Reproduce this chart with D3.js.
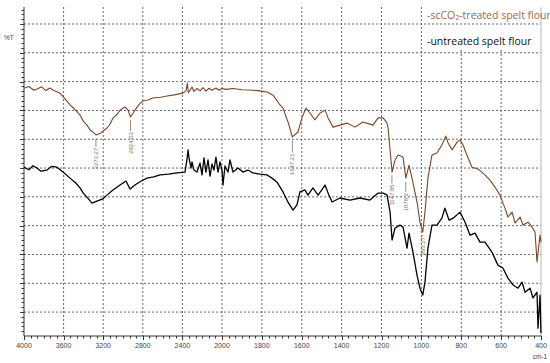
<!DOCTYPE html>
<html lang="en">
<head>
<meta charset="UTF-8">
<title>FTIR spelt flour</title>
<script src="https://d3js.org/d3.v7.min.js"></script>
<style>
    body { margin: 0; background: #fff; }
    svg { display: block; font-family: "Liberation Sans", Arial, sans-serif; }
    .grid line { stroke: #666; stroke-width: 1; stroke-dasharray: 2,2; }
    .tick-label { font-size: 7px; fill: #444; text-anchor: middle; }
    .peak text { font-size: 6px; fill: #8a6a52; }
    .peak line { stroke: #8a6a52; stroke-width: 0.8; }
</style>
</head>
<body>
<div id="chart"></div>
<script>
// wavenumber (cm-1) ticks
var xMajor = [4000, 3600, 3200, 2800, 2400, 2000, 1800, 1600, 1400, 1200, 1000, 800, 600, 400];
var yMajor = [0, 10, 20, 30, 40, 50, 60, 70, 80, 90, 100];

// scCO2-treated spelt flour  [wavenumber, %T]
var treated = [
    [4000, 77.7], [3950, 78.3], [3900, 77.0], [3869, 77.4], [3820, 78.2], [3780, 76.9], [3740, 77.8], [3707, 77.1],
    [3636, 76.0], [3590, 74.2], [3535, 71.9], [3490, 70.5], [3434, 68.4], [3400, 66.2], [3364, 64.9], [3330, 63.1],
    [3303, 62.5], [3273, 61.5], [3222, 62.2], [3162, 63.9], [3130, 65.3], [3101, 67.4], [3060, 68.6], [3030, 70.1],
    [2980, 71.2], [2950, 70.1], [2924, 67.7], [2900, 69.0], [2879, 70.1], [2840, 72.0], [2798, 73.3], [2750, 73.6],
    [2697, 74.3], [2620, 74.6], [2556, 75.0], [2480, 75.4], [2394, 76.0], [2364, 76.8], [2350, 79.5], [2340, 76.2],
    [2323, 77.0], [2303, 78.1], [2283, 76.6], [2253, 77.6], [2222, 76.8], [2192, 77.9], [2162, 76.7], [2131, 77.7],
    [2101, 77.0], [2061, 77.8], [2030, 77.0], [2000, 77.6], [1980, 77.3], [1945, 77.6], [1900, 77.2], [1860, 77.1],
    [1810, 76.8], [1774, 76.4], [1744, 75.3], [1709, 71.9], [1694, 70.8], [1669, 66.0], [1647, 60.8], [1619, 62.5],
    [1599, 67.4], [1579, 70.8], [1559, 69.1], [1534, 66.7], [1508, 69.1], [1483, 70.1], [1468, 67.4], [1443, 64.2],
    [1408, 64.9], [1373, 65.6], [1333, 64.2], [1293, 66.0], [1243, 64.9], [1217, 67.4], [1192, 67.4], [1172, 65.6],
    [1167, 63.9], [1147, 48.6], [1132, 52.8], [1117, 54.5], [1092, 53.8], [1078, 46.5], [1062, 51.0], [1047, 46.5],
    [1022, 38.2], [1007, 31.2], [993, 27.8], [982, 34.7], [967, 46.5], [947, 54.5], [922, 55.2], [897, 58.0],
    [877, 61.1], [866, 58.7], [846, 56.3], [821, 59.0], [806, 59.7], [791, 58.0], [766, 53.5], [746, 50.3],
    [716, 49.7], [681, 47.6], [656, 45.8], [631, 43.4], [606, 40.6], [581, 36.1], [566, 33.0], [545, 34.7],
    [530, 30.9], [505, 33.0], [490, 30.2], [465, 31.2], [445, 29.5], [430, 27.8], [420, 17.4], [405, 26.7], [400, 24.3]
];

// untreated spelt flour  [wavenumber, %T]
var untreated = [
    [4000, 50.3], [3950, 49.4], [3910, 50.8], [3869, 50.0], [3830, 48.9], [3768, 49.3], [3720, 50.6], [3667, 50.3],
    [3606, 48.6], [3535, 46.5], [3480, 44.9], [3434, 43.1], [3400, 41.2], [3364, 39.9], [3313, 37.8], [3263, 38.5],
    [3210, 39.2], [3162, 40.6], [3101, 42.4], [3030, 44.1], [2970, 45.5], [2929, 42.7], [2879, 44.1], [2820, 45.4],
    [2758, 46.5], [2690, 46.9], [2626, 47.6], [2540, 47.9], [2455, 48.3], [2374, 48.6], [2354, 52.8], [2343, 56.3],
    [2333, 53.5], [2313, 50.0], [2303, 52.1], [2283, 49.3], [2253, 48.6], [2222, 51.7], [2202, 47.6], [2182, 53.5],
    [2162, 48.6], [2141, 52.8], [2121, 47.2], [2101, 51.4], [2081, 49.3], [2061, 53.8], [2040, 48.6], [2020, 52.1],
    [2000, 49.3], [1995, 44.1], [1985, 50.7], [1970, 48.6], [1960, 52.8], [1945, 48.6], [1920, 50.0], [1895, 48.6],
    [1870, 49.3], [1845, 48.3], [1809, 47.9], [1774, 47.6], [1749, 46.5], [1724, 45.1], [1694, 41.7], [1669, 38.2],
    [1644, 35.4], [1624, 37.2], [1609, 41.7], [1584, 42.4], [1569, 40.6], [1544, 43.1], [1518, 40.6], [1483, 44.1],
    [1468, 41.3], [1448, 38.2], [1408, 39.6], [1358, 38.9], [1308, 39.6], [1258, 38.9], [1217, 41.3], [1192, 41.3],
    [1172, 40.6], [1157, 34.7], [1147, 25.0], [1132, 29.2], [1107, 30.2], [1092, 29.5], [1072, 22.2], [1062, 27.4],
    [1042, 20.8], [1022, 12.8], [1007, 8.3], [993, 5.9], [982, 10.4], [967, 22.2], [947, 30.2], [922, 30.2],
    [897, 32.6], [882, 36.1], [861, 31.9], [841, 32.6], [806, 34.7], [781, 31.2], [756, 26.7], [731, 27.4],
    [706, 24.3], [681, 24.3], [646, 20.8], [616, 16.3], [591, 15.3], [566, 11.8], [540, 9.4], [515, 8.3],
    [495, 10.4], [480, 6.9], [455, 8.3], [440, 4.9], [420, 6.9], [415, -5.6], [405, 5.9], [400, -7.3]
];

// peak annotations on the treated curve: [wavenumber, label, %T of leader top, %T of text start]
var peaks = [
    [3273.27, "3273.27", 60.2, 57.4],
    [2924.03, "2924.03", 66.6, 62.8],
    [1647.21, "1647.21", 59.6, 55.4],
    [1147.85, "1147.85", 47.5, 44.7],
    [1078.2, "1078.2", 45.2, 41.7],
    [993.27, "993.27", 26.8, 26.4]
];

var W = 550, H = 363;
var svg = d3.select("#chart").append("svg").attr("width", W).attr("height", H);

// x axis is piecewise: 4000-2000 compressed, 2000-400 expanded
var x = d3.scaleLinear().domain([4000, 2000, 400]).range([24, 222, 541]);
var y = d3.scaleLinear().domain([-8.3, 105.9]).range([336, 7]);

// minor ticks: 6 per major interval
var xMinor = [];
for (var i = 0; i < xMajor.length - 1; i++) {
    for (var k = 1; k < 6; k++) xMinor.push(xMajor[i] + (xMajor[i + 1] - xMajor[i]) * k / 6);
}
var yMinor = [];
for (var v = 100 + 10 / 6; v < 105.9; v += 10 / 6) yMinor.push(v);
for (var j = 0; j < yMajor.length - 1; j++) {
    for (var k2 = 1; k2 < 6; k2++) yMinor.push(yMajor[j] + 10 * k2 / 6);
}
for (var v2 = -10 / 6; v2 > -8.3; v2 -= 10 / 6) yMinor.push(v2);

// vertical grid (the two right-most stop under the legend)
var grid = svg.append("g").attr("class", "grid");
grid.selectAll(".vg")
    .data(xMajor.filter(function (d) { return d != 4000 && d != 400; }))
    .enter().append("line")
    .attr("x1", function (d) { return x(d); })
    .attr("x2", function (d) { return x(d); })
    .attr("y1", function (d) { return d < 900 ? 50 : y.range()[1]; })
    .attr("y2", y.range()[0]);
// horizontal grid
grid.selectAll(".hg")
    .data(yMajor)
    .enter().append("line")
    .attr("x1", x(4000)).attr("x2", x(400))
    .attr("y1", function (d) { return y(d); })
    .attr("y2", function (d) { return y(d); });

// right border
svg.append("line")
    .attr("x1", x(400)).attr("x2", x(400))
    .attr("y1", y.range()[1]).attr("y2", y.range()[0])
    .style("stroke", "#bbb").style("stroke-width", 1);

// axes lines
svg.append("line").attr("x1", x(4000)).attr("x2", x(4000))
    .attr("y1", y.range()[1]).attr("y2", y.range()[0])
    .style("stroke", "#333").style("stroke-width", 1);
svg.append("line").attr("x1", x(4000)).attr("x2", x(400) + 0.5)
    .attr("y1", y.range()[0]).attr("y2", y.range()[0])
    .style("stroke", "#333").style("stroke-width", 1);

// y ticks
svg.selectAll(".ytick")
    .data(yMajor.map(function (d) { return [d, 4]; }).concat(yMinor.map(function (d) { return [d, 2.5]; })))
    .enter().append("line")
    .attr("x1", function (d) { return x(4000) - d[1]; }).attr("x2", x(4000))
    .attr("y1", function (d) { return Math.round(y(d[0])) + 0.5; })
    .attr("y2", function (d) { return Math.round(y(d[0])) + 0.5; })
    .style("stroke", "#333").style("stroke-width", 1);

// x ticks
svg.selectAll(".xtick")
    .data(xMajor.map(function (d) { return [d, 4]; }).concat(xMinor.map(function (d) { return [d, 2.5]; })))
    .enter().append("line")
    .attr("x1", function (d) { return Math.round(x(d[0])) + 0.5; })
    .attr("x2", function (d) { return Math.round(x(d[0])) + 0.5; })
    .attr("y1", y.range()[0]).attr("y2", function (d) { return y.range()[0] + d[1]; })
    .style("stroke", "#333").style("stroke-width", 1);

svg.selectAll(".tick-label")
    .data(xMajor)
    .enter().append("text")
    .attr("class", "tick-label")
    .attr("x", function (d) { return x(d); })
    .attr("y", 348)
    .text(function (d) { return d; });

svg.append("text").attr("x", 540).attr("y", 359)
    .style("font-size", "6.5px").style("fill", "#444").style("text-anchor", "middle")
    .text("cm-1");
svg.append("text").attr("x", 4).attr("y", 40)
    .style("font-size", "6.5px").style("fill", "#444")
    .text("%T");

// curves
var line = d3.line()
    .x(function (d) { return x(d[0]); })
    .y(function (d) { return y(d[1]); });

svg.append("path").datum(untreated)
    .attr("d", line)
    .style("fill", "none").style("stroke", "#000").style("stroke-width", 1.3)
    .style("stroke-linejoin", "round");
svg.append("path").datum(treated)
    .attr("d", line)
    .style("fill", "none").style("stroke", "#7a4627").style("stroke-width", 1.1)
    .style("stroke-linejoin", "round");

// peak labels
var pk = svg.selectAll(".peak").data(peaks).enter().append("g").attr("class", "peak");
pk.append("line")
    .attr("x1", function (d) { return x(d[0]); })
    .attr("x2", function (d) { return x(d[0]); })
    .attr("y1", function (d) { return y(d[2]); })
    .attr("y2", function (d) { return y(d[3]); });
pk.append("text")
    .attr("transform", function (d) { return "translate(" + (x(d[0]) + 2) + "," + (y(d[3]) + 1) + ") rotate(-90)"; })
    .style("text-anchor", "end")
    .text(function (d) { return d[1]; });

// legend
var lg = svg.append("g");
lg.append("text").attr("x", 427).attr("y", 19)
    .style("font-family", "'Open Sans', sans-serif").style("font-size", "10.5px").style("fill", "#a0684a")
    .html("-scCO<tspan font-size='7px' dy='1'>2</tspan><tspan dy='-1'>-treated spelt flour</tspan>");
lg.append("text").attr("x", 427).attr("y", 45)
    .style("font-family", "'Open Sans', sans-serif").style("font-size", "10.5px").style("fill", "#111")
    .text("-untreated spelt flour");
</script>
</body>
</html>
